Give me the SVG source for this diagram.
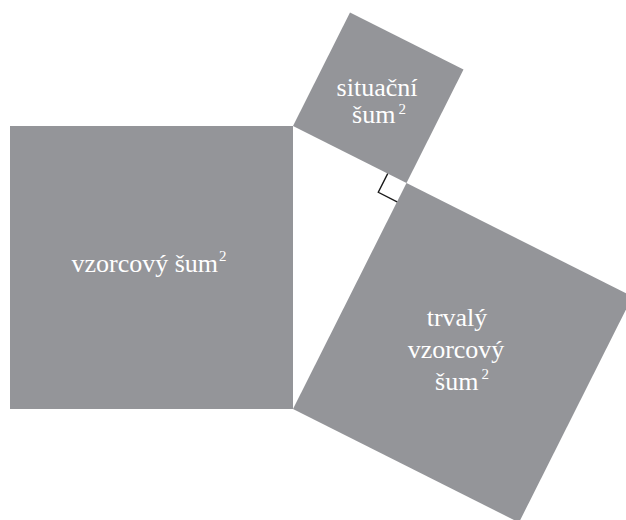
<svg xmlns="http://www.w3.org/2000/svg" width="626" height="520" viewBox="0 0 626 520">
<style>
.sq{fill:#949599;stroke:none}
.lbl{font-family:"Liberation Serif","Times New Roman",serif;font-size:26px;fill:#ffffff;text-anchor:middle}
.sup{font-size:15px}
.mark{fill:none;stroke:#1a1a1a;stroke-width:1.4}
</style>
<rect width="626" height="520" fill="#ffffff"/>
<g id="node-left">
<rect class="sq" x="10" y="126" width="283" height="283"/>
<text class="lbl" x="149" y="272">vzorcový šum<tspan class="sup" dx="1" dy="-11">2</tspan></text>
</g>
<g id="node-small">
<polygon class="sq" points="293,126 406.5,183 463.5,69.5 350,12.5"/>
<text class="lbl" x="377" y="96">situační</text>
<text class="lbl" x="379" y="123">šum<tspan class="sup" dx="3" dy="-9">2</tspan></text>
</g>
<g id="node-large">
<polygon class="sq" points="406.5,183 293,409 519,522.5 632.5,296.5"/>
<text class="lbl" x="457" y="326">trvalý</text>
<text class="lbl" x="456" y="358">vzorcový</text>
<text class="lbl" x="462" y="390">šum<tspan class="sup" dx="3" dy="-11">2</tspan></text>
</g>
<g id="connectors">
<polyline class="mark" points="387.7,173.6 378.3,192.3 397.1,201.8"/>
</g>
</svg>
